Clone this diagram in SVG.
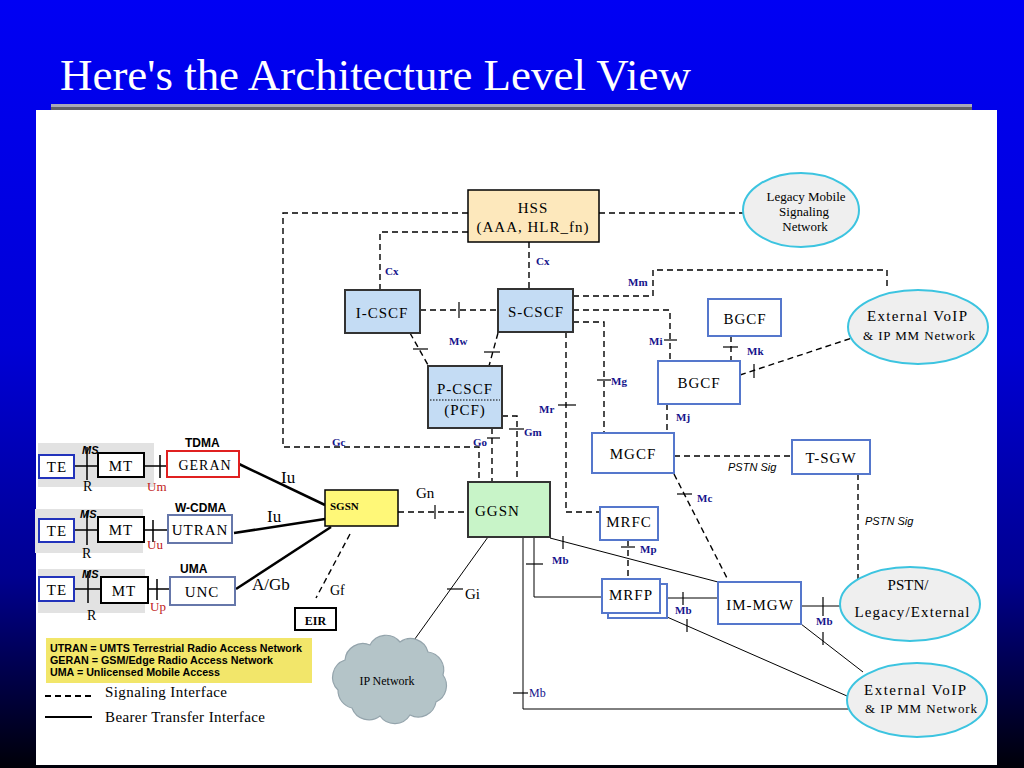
<svg xmlns="http://www.w3.org/2000/svg" width="1024" height="768" viewBox="0 0 1024 768">
  <defs>
    <linearGradient id="bg" x1="0" y1="0" x2="0" y2="1">
      <stop offset="0" stop-color="#0000f4"/>
      <stop offset="0.45" stop-color="#0000d6"/>
      <stop offset="0.75" stop-color="#000090"/>
      <stop offset="1" stop-color="#000008"/>
    </linearGradient>
    <style>
      .sig{fill:none;stroke:#000;stroke-width:1.4;stroke-dasharray:6 4}
      .brr{fill:none;stroke:#000;stroke-width:1}
      .thick{fill:none;stroke:#000;stroke-width:2.5}
      .tick{fill:none;stroke:#000;stroke-width:1.2}
      .lbl{font-family:"Liberation Serif",serif;font-weight:bold;font-size:11px;fill:#14148c}
      .lbln{font-family:"Liberation Serif",serif;font-size:12px;fill:#14148c}
      .nt{font-family:"Liberation Serif",serif;font-size:15px;fill:#000;letter-spacing:1px;text-anchor:middle}
      .st{font-family:"Liberation Serif",serif;font-size:14px;fill:#000}
      .et{font-family:"Liberation Serif",serif;fill:#000;text-anchor:middle}
      .psig{font-family:"Liberation Sans",sans-serif;font-style:italic;font-size:11px;fill:#000}
      .hd{font-family:"Liberation Sans",sans-serif;font-weight:bold;font-size:12px;fill:#000}
      .ms{font-family:"Liberation Sans",sans-serif;font-weight:bold;font-style:italic;font-size:11px;fill:#000}
      .red{font-family:"Liberation Serif",serif;font-size:13px;fill:#c02020}
      .cscf{fill:#c4dcf4;stroke:#333;stroke-width:2}
      .bx{fill:#fff;stroke:#5577cc;stroke-width:2}
      .ell{fill:#efefef;stroke:#3cc4e0;stroke-width:2}
      .acc{fill:#e2e2e2}
      .te{fill:#fff;stroke:#2233bb;stroke-width:2}
      .mt{fill:#fff;stroke:#000;stroke-width:2}
      .link{fill:none;stroke:#000;stroke-width:1.5}
      .leg{font-family:"Liberation Sans",sans-serif;font-weight:bold;font-size:10px;fill:#000}
    </style>
  </defs>

  <!-- slide background -->
  <rect x="0" y="0" width="1024" height="768" fill="url(#bg)"/>
  <text x="60" y="90" font-family="'Liberation Serif',serif" font-size="44" fill="#fff" textLength="631" lengthAdjust="spacingAndGlyphs">Here's the Architecture Level View</text>
  <rect x="51" y="104" width="921" height="3" fill="#a8a8b8"/>
  <rect x="51" y="107" width="921" height="3" fill="#606068"/>
  <rect x="36" y="110" width="961" height="655" fill="#fff"/>

  <!-- connectors -->
  <g id="connectors">
    <!-- signaling -->
    <path class="sig" d="M468 213 H283 V447 H479 V482"/>
    <path class="sig" d="M599 213 H745"/>
    <path class="sig" d="M468 232 H380 V290"/>
    <path class="sig" d="M529 242 V289"/>
    <path class="sig" d="M420 310 H498"/>
    <path class="tick" d="M459 302 V318"/>
    <path class="sig" d="M410 333 L428 365"/>
    <path class="tick" d="M413 349 H428"/>
    <path class="sig" d="M498 333 L489 366"/>
    <path class="tick" d="M484 352 H500"/>
    <path class="sig" d="M502 416 H517 V482"/>
    <path class="tick" d="M509 429 H524"/>
    <path class="sig" d="M492 428 V482"/>
    <path class="tick" d="M487 438 H500"/>
    <path class="sig" d="M573 296 H653 V270 H887 V290"/>
    <path class="sig" d="M573 310 H670 V361"/>
    <path class="tick" d="M664 340 H677"/>
    <path class="sig" d="M573 322 H604 V433"/>
    <path class="tick" d="M597 380 H611"/>
    <path class="sig" d="M566 332 V512 H600"/>
    <path class="tick" d="M558 405 H576"/>
    <path class="sig" d="M731 336 V361"/>
    <path class="tick" d="M723 347 H738"/>
    <path class="sig" d="M740 375 L852 338"/>
    <path class="tick" d="M754 364 V378"/>
    <path class="sig" d="M667 404 V433"/>
    <path class="sig" d="M674 456 H792"/>
    <path class="sig" d="M858 474 V582"/>
    <path class="sig" d="M674 474 L728 580"/>
    <path class="tick" d="M677 494 H692"/>
    <path class="sig" d="M398 512 H468"/>
    <path class="tick" d="M435 505 V519"/>
    <path class="sig" d="M350 534 L316 598"/>
    <path class="sig" d="M628 540 V579"/>
    <path class="tick" d="M621 547 H635"/>
    <!-- bearer -->
    <path class="brr" d="M488 537 L412 643"/>
    <path class="tick" d="M447 589 H463"/>
    <path class="brr" d="M534 537 V597 H602"/>
    <path class="tick" d="M526 564 H543"/>
    <path class="brr" d="M550 538 L718 582"/>
    <path class="tick" d="M563 536 V549"/>
    <path class="brr" d="M523 537 V709 H848"/>
    <path class="tick" d="M513 693 H528"/>
    <path class="brr" d="M667 598 H718"/>
    <path class="tick" d="M683 592 V605"/>
    <path class="brr" d="M667 617 L847 696"/>
    <path class="tick" d="M687 619 V632"/>
    <path class="brr" d="M801 606 H840"/>
    <path class="tick" d="M823 597 V616"/>
    <path class="brr" d="M801 624 L863 672"/>
    <path class="tick" d="M823 632 V645"/>
    <path class="thick" d="M239 464 L325 505"/>
    <path class="thick" d="M234 533 L325 519"/>
    <path class="thick" d="M236 589 L331 527"/>

    <!-- interface labels -->
    <text class="lbl" x="385" y="275">Cx</text>
    <text class="lbl" x="536" y="265">Cx</text>
    <text class="lbl" x="449" y="345">Mw</text>
    <text class="lbl" x="332" y="446">Gc</text>
    <text class="lbl" x="473" y="446">Go</text>
    <text class="lbl" x="524" y="436">Gm</text>
    <text class="lbl" x="539" y="413">Mr</text>
    <text class="lbl" x="611" y="385">Mg</text>
    <text class="lbl" x="649" y="345">Mi</text>
    <text class="lbl" x="628" y="286">Mm</text>
    <text class="lbl" x="676" y="421">Mj</text>
    <text class="lbl" x="747" y="355">Mk</text>
    <text class="lbl" x="697" y="502">Mc</text>
    <text class="lbl" x="640" y="553">Mp</text>
    <text class="lbl" x="552" y="564">Mb</text>
    <text class="lbl" x="675" y="614">Mb</text>
    <text class="lbl" x="816" y="625">Mb</text>
    <text class="lbln" x="529" y="697">Mb</text>
    <text class="psig" x="728" y="471">PSTN Sig</text>
    <text class="psig" x="865" y="525">PSTN Sig</text>
    <text class="st" x="416" y="498" style="font-size:15px">Gn</text>
    <text class="st" x="330" y="595">Gf</text>
    <text class="st" x="465" y="599" style="font-size:15px">Gi</text>
    <text class="st" x="281" y="483" style="font-size:17px">Iu</text>
    <text class="st" x="267" y="522" style="font-size:17px">Iu</text>
    <text class="st" x="252" y="590" style="font-size:17px">A/Gb</text>
  </g>

  <!-- core network nodes -->
  <g id="hss">
    <rect x="468" y="190" width="131" height="52" fill="#fde8bc" stroke="#000" stroke-width="1.5"/>
    <text class="nt" x="533" y="213">HSS</text>
    <text class="nt" x="533" y="232">(AAA, HLR_fn)</text>
  </g>
  <g id="legacy-mobile">
    <ellipse class="ell" cx="801" cy="210" rx="58" ry="37"/>
    <text class="et" x="806" y="201" font-size="13">Legacy Mobile</text>
    <text class="et" x="804" y="216" font-size="13">Signaling</text>
    <text class="et" x="805" y="231" font-size="13">Network</text>
  </g>
  <g id="i-cscf">
    <rect class="cscf" x="345" y="290" width="75" height="43"/>
    <text class="nt" x="382" y="318">I-CSCF</text>
  </g>
  <g id="s-cscf">
    <rect class="cscf" x="498" y="289" width="75" height="43"/>
    <text class="nt" x="536" y="317">S-CSCF</text>
  </g>
  <g id="p-cscf">
    <rect class="cscf" x="428" y="366" width="74" height="62"/>
    <line x1="430" y1="400" x2="500" y2="400" stroke="#000" stroke-width="1" stroke-dasharray="1.5 1.5"/>
    <text class="nt" x="465" y="394">P-CSCF</text>
    <text class="nt" x="465" y="415">(PCF)</text>
  </g>
  <g id="bgcf-upper">
    <rect class="bx" x="708" y="299" width="73" height="37"/>
    <text class="nt" x="745" y="324">BGCF</text>
  </g>
  <g id="bgcf">
    <rect class="bx" x="658" y="361" width="82" height="43"/>
    <text class="nt" x="699" y="388">BGCF</text>
  </g>
  <g id="ext-voip-upper">
    <ellipse class="ell" cx="918" cy="327" rx="70" ry="37"/>
    <text class="et" x="917" y="321" font-size="15" textLength="100">External VoIP</text>
    <text class="et" x="919" y="340" font-size="13" textLength="112">&amp; IP MM Network</text>
  </g>
  <g id="mgcf">
    <rect class="bx" x="592" y="433" width="82" height="40"/>
    <text class="nt" x="633" y="459">MGCF</text>
  </g>
  <g id="t-sgw">
    <rect class="bx" x="792" y="440" width="78" height="34"/>
    <text class="nt" x="831" y="463">T-SGW</text>
  </g>
  <g id="ggsn">
    <rect x="468" y="482" width="82" height="55" fill="#c8f4c8" stroke="#333" stroke-width="2"/>
    <text class="st" x="475" y="516" style="font-size:15px;letter-spacing:1px">GGSN</text>
  </g>
  <g id="sgsn">
    <rect x="325" y="490" width="73" height="36" fill="#fff878" stroke="#000" stroke-width="1.5"/>
    <text x="330" y="510" font-family="'Liberation Serif',serif" font-weight="bold" font-size="11">SGSN</text>
  </g>
  <g id="mrfc">
    <rect class="bx" x="600" y="507" width="58" height="33"/>
    <text class="nt" x="629" y="527">MRFC</text>
  </g>
  <g id="mrfp">
    <rect class="bx" x="608" y="584" width="59" height="34"/>
    <rect class="bx" x="602" y="579" width="58" height="34"/>
    <text class="nt" x="631" y="600">MRFP</text>
  </g>
  <g id="im-mgw">
    <rect class="bx" x="718" y="582" width="83" height="42"/>
    <text class="nt" x="760" y="610">IM-MGW</text>
  </g>
  <g id="pstn">
    <ellipse class="ell" cx="910" cy="604" rx="70" ry="37"/>
    <text class="et" x="908" y="590" font-size="15">PSTN/</text>
    <text class="et" x="912" y="617" font-size="15" textLength="115">Legacy/External</text>
  </g>
  <g id="ext-voip-lower">
    <ellipse class="ell" cx="917" cy="700" rx="70" ry="37"/>
    <text class="et" x="915" y="695" font-size="15" textLength="102">External VoIP</text>
    <text class="et" x="921" y="713" font-size="13" textLength="112">&amp; IP MM Network</text>
  </g>
  <g id="ip-network">
    <path d="M338 690 A18 18 0 0 1 345 660 A18 18 0 0 1 370 645 A18 18 0 0 1 400 642 A18 18 0 0 1 428 652 A18 18 0 0 1 443 675 A18 18 0 0 1 436 702 A18 18 0 0 1 410 715 A18 18 0 0 1 380 716 A18 18 0 0 1 352 708 A18 18 0 0 1 338 690 Z" fill="#b4c4c8" stroke="#94a4ac" stroke-width="1.2"/>
    <text class="et" x="387" y="685" font-size="12">IP Network</text>
  </g>
  <g id="eir">
    <rect x="295" y="608" width="41" height="22" fill="#fff" stroke="#000" stroke-width="2"/>
    <text x="315.5" y="625" text-anchor="middle" font-family="'Liberation Serif',serif" font-weight="bold" font-size="12">EIR</text>
  </g>

  <!-- access networks -->
  <g id="access-tdma">
    <rect class="acc" x="38" y="443" width="116" height="44"/>
    <path class="link" d="M74 466 H98 M87 447 V480 M144 466 H167 M160 455 V478"/>
    <rect class="te" x="39" y="455" width="35" height="23"/>
    <text class="nt" x="57" y="472">TE</text>
    <rect class="mt" x="98" y="453" width="46" height="24"/>
    <text class="nt" x="121" y="471">MT</text>
    <rect x="167" y="451" width="72" height="26" fill="#fff" stroke="#e02020" stroke-width="2"/>
    <text class="nt" x="205" y="470" style="font-size:14px">GERAN</text>
    <text class="ms" x="82" y="454">MS</text>
    <text class="st" x="83" y="491">R</text>
    <text class="red" x="147" y="491">Um</text>
    <text class="hd" x="185" y="447">TDMA</text>
  </g>
  <g id="access-wcdma">
    <rect class="acc" x="35" y="509" width="108" height="44"/>
    <path class="link" d="M74 530 H98 M87 511 V545 M144 530 H168 M153 520 V542"/>
    <rect class="te" x="39" y="519" width="35" height="23"/>
    <text class="nt" x="57" y="536">TE</text>
    <rect class="mt" x="98" y="517" width="46" height="25"/>
    <text class="nt" x="121" y="535">MT</text>
    <rect x="168" y="515" width="64" height="28" fill="#fff" stroke="#6677aa" stroke-width="2"/>
    <text class="nt" x="200" y="535">UTRAN</text>
    <text class="ms" x="80" y="518">MS</text>
    <text class="st" x="82" y="558">R</text>
    <text class="red" x="147" y="549">Uu</text>
    <text class="hd" x="175" y="512">W-CDMA</text>
  </g>
  <g id="access-uma">
    <rect class="acc" x="38" y="569" width="107" height="44"/>
    <path class="link" d="M74 589 H101 M88 571 V603 M148 589 H170 M157 579 V600"/>
    <rect class="te" x="39" y="577" width="35" height="24"/>
    <text class="nt" x="57" y="595">TE</text>
    <rect class="mt" x="101" y="577" width="47" height="26"/>
    <text class="nt" x="124" y="596">MT</text>
    <rect x="170" y="577" width="65" height="28" fill="#fff" stroke="#6677aa" stroke-width="2"/>
    <text class="nt" x="202" y="597">UNC</text>
    <text class="ms" x="82" y="578">MS</text>
    <text class="st" x="87" y="620">R</text>
    <text class="red" x="150" y="611">Up</text>
    <text class="hd" x="180" y="573">UMA</text>
  </g>

  <!-- legend -->
  <g id="legend">
    <rect x="46" y="638" width="266" height="45" fill="#f2e66a"/>
    <text class="leg" x="50" y="652" textLength="252" lengthAdjust="spacingAndGlyphs">UTRAN = UMTS Terrestrial Radio Access Network</text>
    <text class="leg" x="50" y="664" textLength="223" lengthAdjust="spacingAndGlyphs">GERAN = GSM/Edge Radio Access Network</text>
    <text class="leg" x="50" y="676" textLength="170" lengthAdjust="spacingAndGlyphs">UMA = Unlicensed Mobile Access</text>
    <path class="sig" d="M45 696 H93" style="stroke-width:1.8"/>
    <text class="st" x="105" y="697" style="font-size:15px" textLength="122">Signaling Interface</text>
    <path class="brr" d="M45 717 H92" style="stroke-width:2"/>
    <text class="st" x="105" y="722" style="font-size:15px" textLength="160">Bearer Transfer Interface</text>
  </g>
</svg>
